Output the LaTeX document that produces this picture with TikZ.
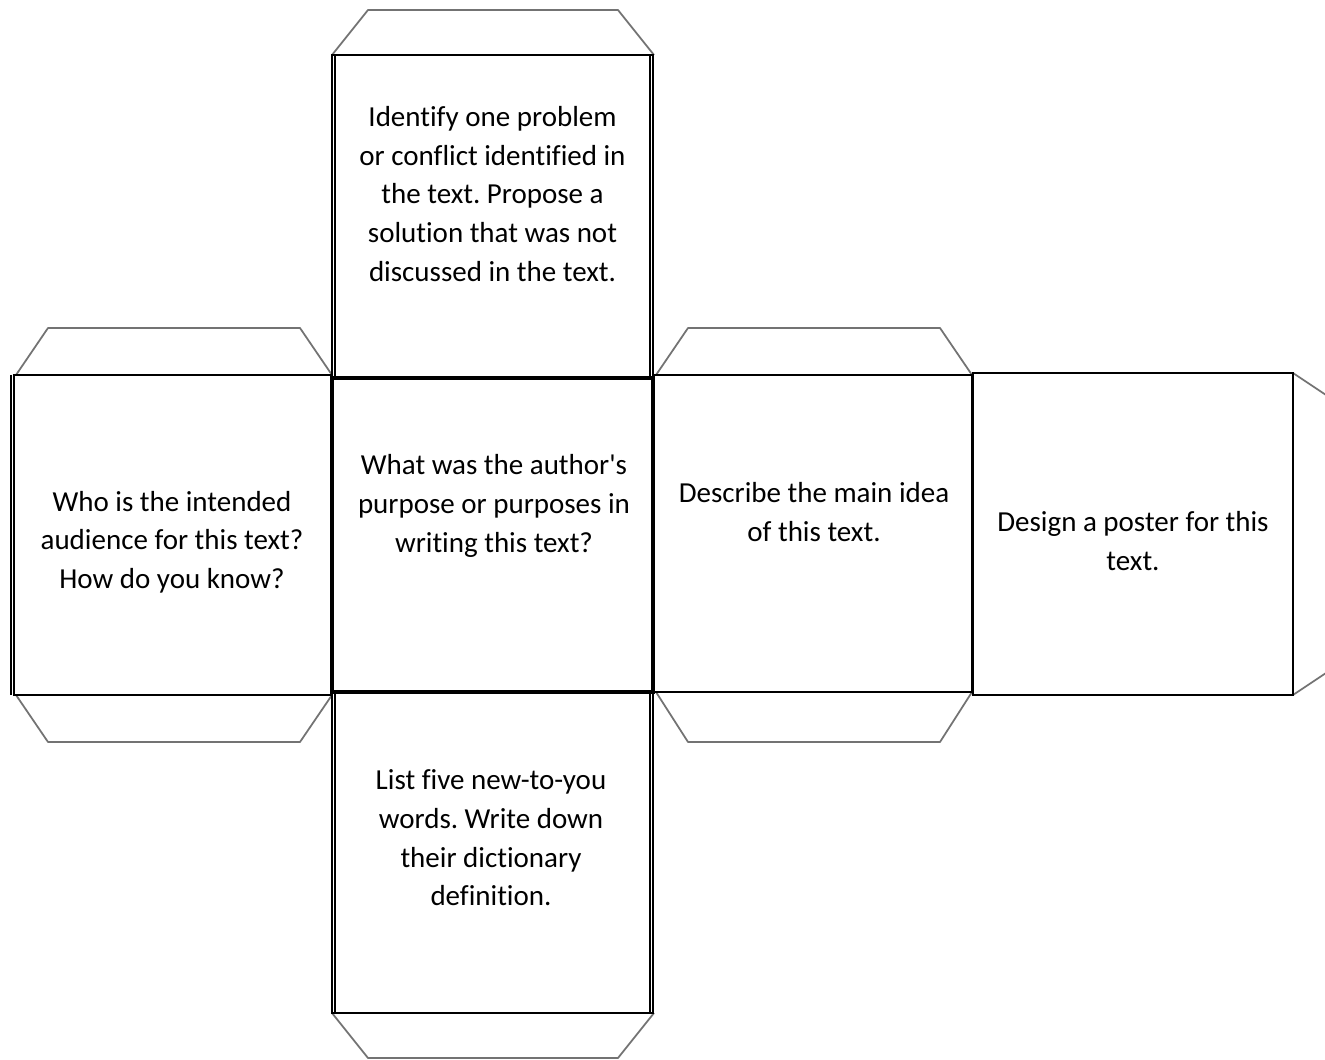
\documentclass[tikz,border=0pt]{standalone}
\usepackage{fontspec}
\setmainfont{Carlito}[Ligatures=NoCommon]
\usetikzlibrary{calc}
\frenchspacing

\tikzset{
	face/.style={draw=black,line width=1.2pt},
	faceedge/.style={draw=black,line width=0.6pt},
	tabline/.style={draw=black!55,line width=1pt,line join=round},
	facetext/.style={align=center,inner sep=0pt,font=\fontsize{16.5}{22}\selectfont}
}

\begin{document}
\begin{tikzpicture}[x=0.02cm,y=-0.02cm]
	\useasboundingbox (0,0) rectangle (1325,1060);
	\clip (0,0) rectangle (1325,1060);

	% tabs
	\draw[tabline] (332,55) -- (368,10) -- (618,10) -- (654,55);
	\draw[tabline] (16,375) -- (48,328) -- (300,328) -- (332,375);
	\draw[tabline] (16,695) -- (48,742) -- (300,742) -- (332,695);
	\draw[tabline] (656,375) -- (688,328) -- (940,328) -- (972,375);
	\draw[tabline] (656,692) -- (688,742) -- (940,742) -- (972,692);
	\draw[tabline] (1293,373) -- (1341,405) -- (1341,663) -- (1293,695);
	\draw[tabline] (332,1013) -- (368,1058) -- (618,1058) -- (654,1013);

	% faces
	\draw[face] (332,55) rectangle (653,378);
	\draw[face] (14,375) rectangle (332,695);
	\draw[face] (332,378) rectangle (653,692);
	\draw[face] (654,375) rectangle (972,692);
	\draw[face] (973,373) rectangle (1293,695);
	\draw[face] (332,692) rectangle (653,1013);
	\draw[face,line width=1.8pt] (332,378) rectangle (653,692);
	\draw[faceedge] (11,375) -- (11,695);
	\draw[faceedge] (335,55) -- (335,378) (650,55) -- (650,378);
	\draw[faceedge] (335,692) -- (335,1013) (650,692) -- (650,1013);

	\node[facetext] (toptext) at (492.5,194) {Identify one problem\\or conflict identified in\\the text. Propose a\\solution that was not\\discussed in the text.};
	\node[facetext] (lefttext) at (172,542) {Who is the intended\\audience for this text?\\How do you know?};
	\node[facetext] (midtext) at (494,506) {What was the author\textquotesingle s\\purpose or purposes in\\writing this text?};
	\node[facetext] (righttext) at (814,512) {Describe the main idea\\of this text.};
	\node[facetext] (fartext) at (1133,541) {Design a poster for this\\text.};
	\node[facetext] (bottext) at (491,838) {List five new-to-you\\words. Write down\\their dictionary\\definition.};
\end{tikzpicture}
\end{document}
